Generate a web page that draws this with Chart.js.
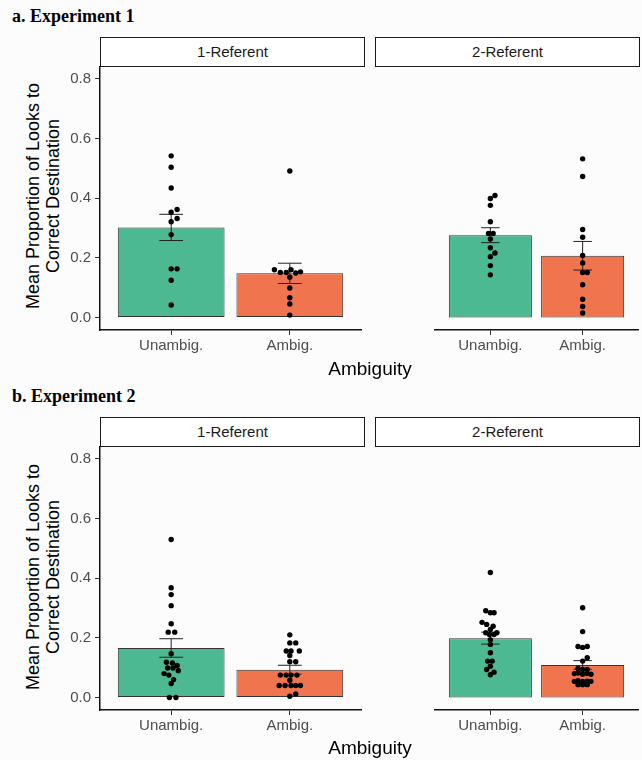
<!DOCTYPE html>
<html lang="en">
<head>
  <meta charset="UTF-8" />
  <title>Mean Proportion of Looks to Correct Destination</title>
  <script src="https://cdn.jsdelivr.net/npm/chart.js"></script>
  <style>
    body {
      margin: 0;
      background-color: #fcfcfd;
      font-family: 'Liberation Sans', Arial, sans-serif;
    }

    #wrap {
      position: relative;
      width: 642px;
      height: 760px;
      overflow: hidden;
    }

    .title {
      position: absolute;
      left: 12px;
      font-family: 'Liberation Serif', 'Times New Roman', serif;
      font-weight: bold;
      font-size: 18px;
      color: #000;
      white-space: nowrap;
    }

    .strip {
      position: absolute;
      box-sizing: border-box;
      height: 30px;
      border: 1.4px solid #1a1a1a;
      background: #fff;
      color: #1a1a1a;
      font-size: 15px;
      line-height: 27px;
      text-align: center;
    }

    .xtitle {
      position: absolute;
      width: 200px;
      text-align: center;
      font-size: 19px;
      line-height: 20px;
      color: #000;
    }

    .ytitle {
      position: absolute;
      width: 300px;
      height: 40px;
      text-align: center;
      font-size: 18px;
      line-height: 20px;
      color: #000;
      transform: rotate(-90deg);
      white-space: nowrap;
    }

    canvas {
      position: absolute;
    }
  </style>
</head>
<body>
  <div id="wrap">
    <div class="title" style="top:6px">a. Experiment 1</div>
    <div class="strip" style="left:100px;top:37px;width:265px">1-Referent</div>
    <div class="strip" style="left:375px;top:37px;width:265px">2-Referent</div>
    <div class="ytitle" style="left:-107px;top:176px">Mean Proportion of Looks to<br>Correct Destination</div>
    <canvas id="a1" width="325" height="313" style="left:40px;top:47px"></canvas>
    <canvas id="a2" width="276" height="313" style="left:366px;top:47px"></canvas>
    <div class="xtitle" style="left:270px;top:359px">Ambiguity</div>

    <div class="title" style="top:386px">b. Experiment 2</div>
    <div class="strip" style="left:100px;top:417px;width:265px">1-Referent</div>
    <div class="strip" style="left:375px;top:417px;width:265px">2-Referent</div>
    <div class="ytitle" style="left:-107px;top:557px">Mean Proportion of Looks to<br>Correct Destination</div>
    <canvas id="b1" width="325" height="313" style="left:40px;top:427px"></canvas>
    <canvas id="b2" width="276" height="313" style="left:366px;top:427px"></canvas>
    <div class="xtitle" style="left:270px;top:738px">Ambiguity</div>
  </div>

  <script>
    // Categories and axis ticks
    const groups = ["Unambig.", "Ambig."];
    const yTicks = [0, 0.2, 0.4, 0.6, 0.8];

    // Bar means and standard errors [Unambig., Ambig.]
    const exp1Ref1Means = [0.302, 0.148];
    const exp1Ref1SE = [0.044, 0.034];
    const exp1Ref2Means = [0.276, 0.207];
    const exp1Ref2SE = [0.025, 0.048];
    const exp2Ref1Means = [0.166, 0.093];
    const exp2Ref1SE = [0.031, 0.015];
    const exp2Ref2Means = [0.199, 0.109];
    const exp2Ref2SE = [0.020, 0.0145];

    // Participant means (y) and their dodge offsets (in category units)
    const exp1Ref1Unambig = [0.542, 0.504, 0.434, 0.362, 0.353, 0.332, 0.321, 0.278, 0.163, 0.163, 0.125, 0.042];
    const exp1Ref1UnambigDx = [0, 0, 0, 0.05, 0, 0.05, 0, 0, 0, 0.05, 0, 0];
    const exp1Ref1Ambig = [0.491, 0.160, 0.151, 0.151, 0.160, 0.149, 0.153, 0.135, 0.099, 0.066, 0.045, 0.008];
    const exp1Ref1AmbigDx = [0, -0.13, -0.08, -0.03, 0.01, 0.05, 0.09, 0, 0, 0, 0, 0];

    const exp1Ref2Unambig = [0.409, 0.399, 0.376, 0.321, 0.282, 0.282, 0.263, 0.234, 0.216, 0.204, 0.174, 0.143];
    const exp1Ref2UnambigDx = [0.05, 0, 0, 0, -0.02, 0.03, 0, 0, 0.05, 0, 0, 0];
    const exp1Ref2Ambig = [0.532, 0.473, 0.295, 0.269, 0.208, 0.183, 0.151, 0.151, 0.110, 0.061, 0.037, 0.015];
    const exp1Ref2AmbigDx = [0, 0, 0, 0, 0, 0, 0, 0.05, 0, 0, 0, 0];

    const exp2Ref1Unambig = [0.530, 0.368, 0.345, 0.308, 0.247, 0.219, 0.219, 0.147, 0.118, 0.116, 0.107, 0.099, 0.099, 0.090, 0.080, 0.075, 0.060, 0.047, 0.0, 0.0];
    const exp2Ref1UnambigDx = [0, 0, 0, 0, 0, -0.025, 0.03, 0, -0.04, 0.01, 0.05, -0.03, 0.015, 0.06, -0.06, -0.02, 0.02, 0, -0.015, 0.04];
    const exp2Ref1Ambig = [0.210, 0.183, 0.183, 0.156, 0.156, 0.156, 0.141, 0.120, 0.120, 0.075, 0.075, 0.075, 0.075, 0.058, 0.040, 0.040, 0.040, 0.040, 0.040, 0.004, 0.012];
    const exp2Ref1AmbigDx = [0, 0, 0.05, -0.03, 0.01, 0.08, 0, 0.05, 0, -0.08, -0.03, 0.01, 0.06, 0, -0.09, -0.04, 0.01, 0.05, 0.09, 0, 0.05];

    const exp2Ref2Unambig = [0.419, 0.291, 0.284, 0.284, 0.252, 0.245, 0.239, 0.228, 0.217, 0.217, 0.211, 0.211, 0.194, 0.178, 0.150, 0.122, 0.122, 0.105, 0.094, 0.085, 0.076];
    const exp2Ref2UnambigDx = [0, -0.05, 0, 0.04, -0.09, -0.04, 0.03, 0, -0.05, 0.07, -0.01, 0.04, 0, 0, 0, -0.03, 0.02, 0, -0.04, 0.04, 0];
    const exp2Ref2Ambig = [0.301, 0.221, 0.171, 0.168, 0.171, 0.133, 0.122, 0.097, 0.094, 0.094, 0.080, 0.082, 0.078, 0.080, 0.078, 0.054, 0.056, 0.054, 0.055, 0.054, 0.043, 0.043, 0.043];
    const exp2Ref2AmbigDx = [0, 0, -0.05, 0, 0.05, 0.05, 0, -0.05, 0, 0.05, -0.09, -0.05, 0, 0.05, 0.09, -0.09, -0.05, 0, 0.05, 0.09, -0.05, 0, 0.05];

    const barColors = ["#4cb992", "#f0754e"];
    const tickColor = "#4d4d4d";

    Chart.defaults.font.family = "'Liberation Sans', Arial, sans-serif";
    Chart.defaults.animation = false;

    // Draws mean +/- SE whiskers right after the bars
    const errorBars = {
      id: "errorBars",
      afterDatasetDraw(chart, args, opts) {
        if (args.index !== 0) return;
        const { ctx } = chart;
        const x = chart.scales.x;
        const y = chart.scales.y;
        ctx.save();
        ctx.strokeStyle = "#222";
        ctx.lineWidth = 1;
        opts.means.forEach((m, i) => {
          const px = x.getPixelForValue(i + 1);
          const half = x.getPixelForValue(i + 1.1) - px;
          const hi = y.getPixelForValue(m + opts.se[i]);
          const lo = y.getPixelForValue(m - opts.se[i]);
          ctx.beginPath();
          ctx.moveTo(px, hi); ctx.lineTo(px, lo);
          ctx.moveTo(px - half, hi); ctx.lineTo(px + half, hi);
          ctx.moveTo(px - half, lo); ctx.lineTo(px + half, lo);
          ctx.stroke();
        });
        ctx.restore();
      }
    };

    function points(vals, dx, pos) {
      return vals.map((v, i) => ({ x: pos + dx[i], y: v }));
    }

    function facet(id, means, se, unambig, unambigDx, ambig, ambigDx, showY) {
      new Chart(document.getElementById(id), {
        type: "bar",
        data: {
          datasets: [
            {
              type: "bar",
              order: 2,
              data: means.map((m, i) => ({ x: i + 1, y: m })),
              backgroundColor: barColors,
              borderColor: "#333",
              borderWidth: 1,
              borderSkipped: false,
              barPercentage: 0.9,
              categoryPercentage: 1.0
            },
            {
              type: "scatter",
              order: 1,
              data: points(unambig, unambigDx, 1).concat(points(ambig, ambigDx, 2)),
              backgroundColor: "#000",
              borderWidth: 0,
              pointRadius: 2.7
            }
          ]
        },
        options: {
          responsive: false,
          layout: { padding: { top: 20, left: showY ? 0 : 9, right: showY ? 0 : 2, bottom: 0 } },
          plugins: {
            legend: { display: false },
            tooltip: { enabled: false },
            errorBars: { means, se }
          },
          scales: {
            x: {
              type: "linear",
              min: 0.4,
              max: 2.6,
              offset: false,
              beginAtZero: false,
              grace: 0,
              afterBuildTicks: axis => { axis.ticks = [1, 2].map(v => ({ value: v })); },
              afterFit: axis => { axis.height = 30; },
              ticks: {
                callback: v => groups[v - 1],
                color: tickColor,
                font: { size: 15 },
                padding: 2,
                maxRotation: 0
              },
              grid: { drawOnChartArea: false, drawTicks: true, tickLength: 5, color: "#333", offset: false },
              border: { display: true, color: "#111", width: 1.5 }
            },
            y: {
              display: showY,
              min: -0.042,
              max: 0.84,
              afterBuildTicks: axis => { axis.ticks = yTicks.map(v => ({ value: v })); },
              afterFit: axis => { axis.width = 60; },
              ticks: {
                callback: v => v.toFixed(1),
                color: tickColor,
                font: { size: 15 },
                padding: 4
              },
              grid: { drawOnChartArea: false, drawTicks: true, tickLength: 5, color: "#333" },
              border: { display: true, color: "#111", width: 1.5 }
            }
          }
        },
        plugins: [errorBars]
      });
    }

    facet("a1", exp1Ref1Means, exp1Ref1SE, exp1Ref1Unambig, exp1Ref1UnambigDx, exp1Ref1Ambig, exp1Ref1AmbigDx, true);
    facet("a2", exp1Ref2Means, exp1Ref2SE, exp1Ref2Unambig, exp1Ref2UnambigDx, exp1Ref2Ambig, exp1Ref2AmbigDx, false);
    facet("b1", exp2Ref1Means, exp2Ref1SE, exp2Ref1Unambig, exp2Ref1UnambigDx, exp2Ref1Ambig, exp2Ref1AmbigDx, true);
    facet("b2", exp2Ref2Means, exp2Ref2SE, exp2Ref2Unambig, exp2Ref2UnambigDx, exp2Ref2Ambig, exp2Ref2AmbigDx, false);
  </script>
</body>
</html>
